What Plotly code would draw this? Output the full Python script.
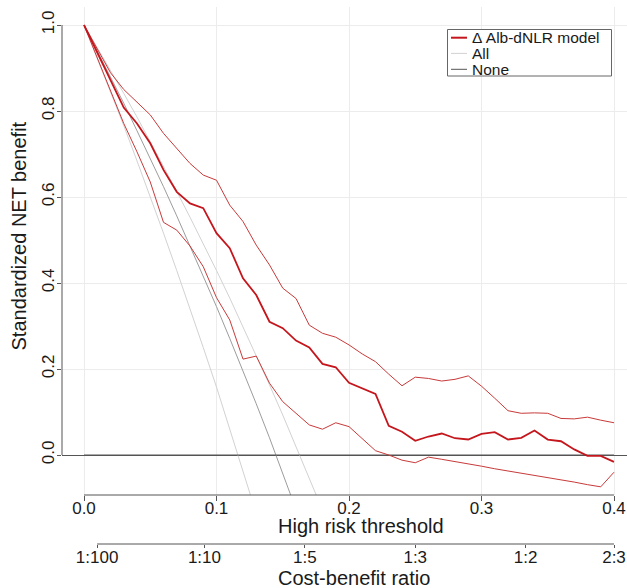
import plotly.graph_objects as go

# ---------------- data ----------------
thresholds = [0.00, 0.01, 0.02, 0.03, 0.04, 0.05, 0.06, 0.07, 0.08, 0.09,
              0.10, 0.11, 0.12, 0.13, 0.14, 0.15, 0.16, 0.17, 0.18, 0.19,
              0.20, 0.21, 0.22, 0.23, 0.24, 0.25, 0.26, 0.27, 0.28, 0.29,
              0.30, 0.31, 0.32, 0.33, 0.34, 0.35, 0.36, 0.37, 0.38, 0.39, 0.40]

model_nb = [1.000, 0.936, 0.872, 0.808, 0.771, 0.725, 0.663, 0.612, 0.585, 0.574,
            0.516, 0.481, 0.411, 0.372, 0.310, 0.295, 0.266, 0.250, 0.212, 0.204,
            0.168, 0.155, 0.142, 0.068, 0.054, 0.033, 0.043, 0.050, 0.039, 0.036,
            0.049, 0.053, 0.036, 0.040, 0.057, 0.036, 0.032, 0.013, -0.002, -0.002, -0.016]

model_upper = [1.000, 0.944, 0.889, 0.850, 0.820, 0.791, 0.748, 0.713, 0.678, 0.651,
               0.639, 0.581, 0.543, 0.488, 0.442, 0.388, 0.364, 0.302, 0.283, 0.274,
               0.256, 0.235, 0.217, 0.188, 0.161, 0.181, 0.178, 0.172, 0.176, 0.184,
               0.160, 0.132, 0.103, 0.097, 0.098, 0.097, 0.085, 0.084, 0.088, 0.081, 0.075]

model_lower = [1.000, 0.924, 0.848, 0.771, 0.705, 0.635, 0.541, 0.523, 0.486, 0.438,
               0.366, 0.314, 0.223, 0.230, 0.167, 0.124, 0.097, 0.070, 0.060, 0.075,
               0.066, 0.037, 0.010, 0.000, -0.012, -0.018, -0.005, -0.010, -0.015, -0.020,
               -0.026, -0.032, -0.037, -0.042, -0.047, -0.053, -0.058, -0.063, -0.069, -0.074, -0.040]

all_thr = [0.00, 0.01, 0.02, 0.03, 0.04, 0.05, 0.06, 0.07, 0.08, 0.09,
           0.10, 0.11, 0.12, 0.13, 0.14, 0.15, 0.16, 0.17, 0.18]
all_nb = [1.000, 0.940, 0.880, 0.818, 0.754, 0.690, 0.624, 0.556, 0.487, 0.417,
          0.345, 0.271, 0.196, 0.119, 0.040, -0.041, -0.123, -0.207, -0.293]
all_lower = [1.000, 0.923, 0.845, 0.766, 0.684, 0.601, 0.516, 0.429, 0.341, 0.250,
             0.158, 0.063, -0.034, -0.133, -0.234, -0.338, -0.444, -0.553, -0.664]
all_upper = [1.000, 0.948, 0.895, 0.841, 0.786, 0.729, 0.672, 0.613, 0.553, 0.492,
             0.429, 0.365, 0.299, 0.232, 0.163, 0.093, 0.021, -0.053, -0.128]

none_thr = [0.00, 0.40]
none_nb = [0.0, 0.0]

x_ticks = [0.0, 0.1, 0.2, 0.3, 0.4]
y_ticks = [0.0, 0.2, 0.4, 0.6, 0.8, 1.0]
cb_positions = [0.0099, 0.0909, 0.1667, 0.2500, 0.3333, 0.4000]
cb_labels = ["1:100", "1:10", "1:5", "1:3", "1:2", "2:3"]

legend_labels = ["\u0394 Alb-dNLR model", "All", "None"]

# ---------------- styles ----------------
FONT = "Liberation Sans, Arial, sans-serif"
RED = "#c4161c"
RED_CI = "#c83a3a"
GRAY_ALL = "#9c9c9c"
GRAY_CI = "#d2d2d2"
DARK = "#555555"
GRID = "#ececec"
TXT = "#1a1a1a"

W, H = 627, 588
ML, MR, MT = 62, 0, 7
MB = H - 544
PW = W - ML - MR
PH = H - MT - MB


def px_x(p):
    """window pixel -> paper x"""
    return (p - ML) / PW


def px_y(p):
    """window pixel -> paper y"""
    return (H - MB - p) / PH


y_dom0 = px_y(495)

fig = go.Figure()

# All CIs
for ys in (all_lower, all_upper):
    fig.add_trace(go.Scatter(x=all_thr, y=ys, mode="lines",
                             line=dict(color=GRAY_CI, width=1),
                             showlegend=False, hoverinfo="skip"))
# All
fig.add_trace(go.Scatter(x=all_thr, y=all_nb, mode="lines",
                         line=dict(color=GRAY_ALL, width=1), name="All",
                         showlegend=False))
# None
fig.add_trace(go.Scatter(x=none_thr, y=none_nb, mode="lines",
                         line=dict(color=DARK, width=1), name="None",
                         showlegend=False))
# Model CIs
for ys in (model_lower, model_upper):
    fig.add_trace(go.Scatter(x=thresholds, y=ys, mode="lines",
                             line=dict(color=RED_CI, width=1),
                             showlegend=False, hoverinfo="skip"))
# Model
fig.add_trace(go.Scatter(x=thresholds, y=model_nb, mode="lines",
                         line=dict(color=RED, width=1.8),
                         name=legend_labels[0], showlegend=False))

# hidden trace to carry the cost-benefit axis
fig.add_trace(go.Scatter(x=cb_positions, y=[None] * len(cb_positions),
                         xaxis="x2", yaxis="y", mode="markers",
                         showlegend=False, hoverinfo="skip"))

xr = [(ML - 84) / 1325.0, (W - MR - 84) / 1325.0]
yr = [(455 - 495) / 430.0, (455 - MT) / 430.0]

fig.update_layout(
    template="none",
    width=W, height=H,
    margin=dict(l=ML, r=MR, t=MT, b=MB, autoexpand=False),
    paper_bgcolor="white", plot_bgcolor="white",
    font=dict(family=FONT, color=TXT, size=17),
    showlegend=False,
    xaxis=dict(range=xr, anchor="y", tickvals=x_ticks, tickformat=".1f",
               ticks="outside", ticklen=5, tickcolor=DARK, tickwidth=1,
               ticklabelstandoff=-7,
               showgrid=True, gridcolor=GRID, gridwidth=1,
               showline=False, zeroline=False, automargin=False,
               tickfont=dict(size=17, color=TXT, family=FONT)),
    xaxis2=dict(range=xr, overlaying="x", anchor="free", position=0,
                side="bottom", tickvals=cb_positions, ticktext=cb_labels,
                ticks="outside", ticklen=3, tickcolor=DARK, tickwidth=1,
                ticklabelstandoff=-5,
                showgrid=False, showline=False, zeroline=False, automargin=False,
                tickfont=dict(size=17, color=TXT, family=FONT)),
    yaxis=dict(range=yr, domain=[y_dom0, 1], tickvals=y_ticks, tickformat=".1f",
               tickangle=-90, ticks="outside", ticklen=4, tickcolor=DARK,
               ticklabelstandoff=-4,
               showgrid=True, gridcolor=GRID, gridwidth=1,
               showline=False, zeroline=True, zerolinecolor=DARK, zerolinewidth=1,
               automargin=False,
               tickfont=dict(size=17, color=TXT, family=FONT)),
)

shapes = [
    # y axis line (0 to 1)
    dict(type="line", xref="paper", yref="y", x0=0, x1=0, y0=0, y1=1,
         line=dict(color=DARK, width=1)),
    # x axis line
    dict(type="line", xref="x", yref="paper", x0=x_ticks[0], x1=x_ticks[-1],
         y0=y_dom0, y1=y_dom0, line=dict(color=DARK, width=1)),
    # cost-benefit axis line
    dict(type="line", xref="x", yref="paper", x0=cb_positions[0], x1=cb_positions[-1],
         y0=0, y1=0, line=dict(color=DARK, width=1)),
    # legend box
    dict(type="rect", xref="paper", yref="paper",
         x0=px_x(447.5), x1=px_x(611.5), y0=px_y(76), y1=px_y(29.5),
         line=dict(color="#666666", width=1), fillcolor="white", layer="above"),
]
leg_rows = [37.7, 53.4, 69.3]
leg_styles = [(RED, 2), (GRAY_CI, 1), (DARK, 1)]
annotations = []
for label, row, (c, w) in zip(legend_labels, leg_rows, leg_styles):
    shapes.append(dict(type="line", xref="paper", yref="paper",
                       x0=px_x(451), x1=px_x(467), y0=px_y(row), y1=px_y(row),
                       line=dict(color=c, width=w), layer="above"))
    annotations.append(dict(text=label, xref="paper", yref="paper",
                            x=px_x(470), y=px_y(row), xanchor="left", yanchor="middle",
                            showarrow=False, font=dict(size=15.5, color=TXT, family=FONT)))

annotations += [
    dict(text="High risk threshold", xref="paper", yref="paper",
         x=px_x(360.5), y=px_y(525.5), xanchor="center", yanchor="middle",
         showarrow=False, font=dict(size=20, color=TXT, family=FONT)),
    dict(text="Cost-benefit ratio", xref="paper", yref="paper",
         x=px_x(353.7), y=px_y(577.5), xanchor="center", yanchor="middle",
         showarrow=False, font=dict(size=20, color=TXT, family=FONT)),
    dict(text="Standardized NET benefit", xref="paper", yref="paper",
         x=px_x(18.5), y=px_y(236), xanchor="center", yanchor="middle",
         textangle=-90, showarrow=False, font=dict(size=20, color=TXT, family=FONT)),
]

fig.update_layout(shapes=shapes, annotations=annotations)

# remove the default 8px page margin so the 627x588 figure fills the window
fig.write_html("out.html",
               config={"displayModeBar": False},
               post_script="document.body.style.margin='0';"
                           "document.body.style.overflow='hidden';")
